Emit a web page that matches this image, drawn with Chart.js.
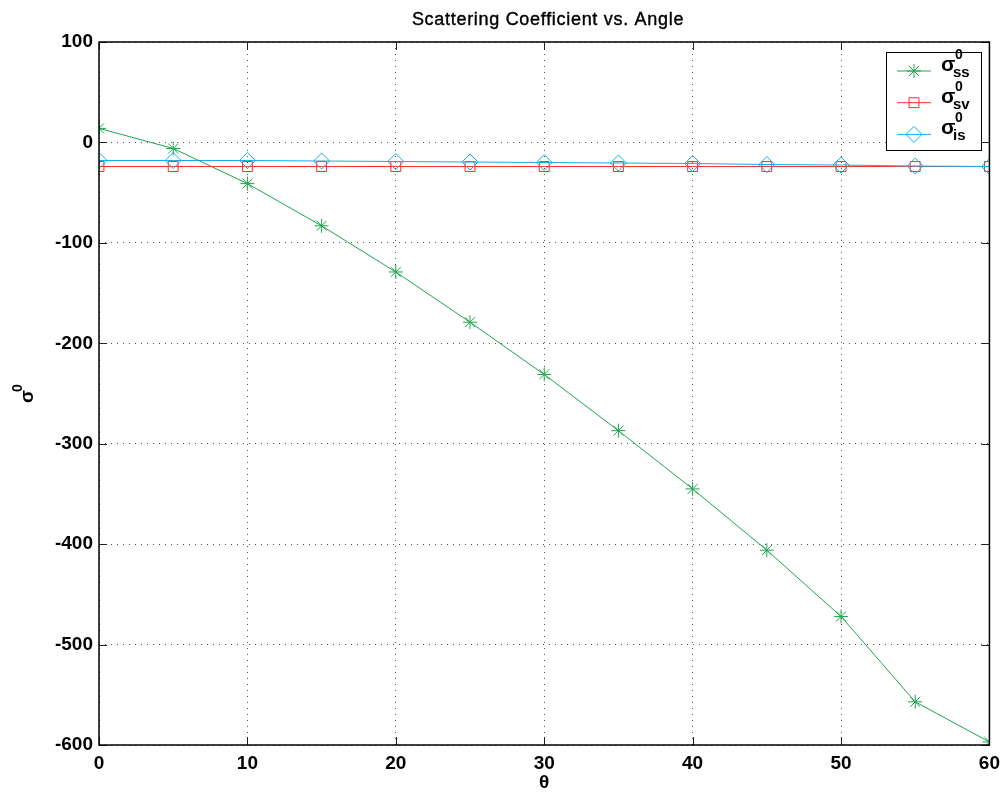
<!DOCTYPE html>
<html>
<head>
<meta charset="utf-8">
<script src="https://cdn.jsdelivr.net/npm/chart.js@4/dist/chart.umd.min.js"></script>
<style>
  html, body { margin: 0; padding: 0; background: #fff; }
  #wrap { width: 1007px; height: 796px; }
</style>
</head>
<body>
<div id="wrap"><canvas id="chart" width="1007" height="796"></canvas></div>
<script>
// data
const angles = [0, 5, 10, 15, 20, 25, 30, 35, 40, 45, 50, 55, 60];
const sigmaSS = [14, -6, -41, -83, -129, -179, -231, -287, -345, -406, -472, -557, -597];
const sigmaSV = [-24, -24, -24, -24, -24, -24, -24, -24, -24, -24, -24, -24, -24];
const sigmaIS = [-18, -18, -18, -18.5, -19, -19.5, -20, -20.5, -21, -22, -22.5, -23.5, -24];
const xTicks = [0, 10, 20, 30, 40, 50, 60];
const yTicks = [-600, -500, -400, -300, -200, -100, 0, 100];

const GREEN = "#1ea64f";
const RED = "#ff2b2b";
const BLUE = "#14aee8";
const FONT = "'Liberation Sans', Arial, sans-serif";

const toPoints = (ys) => ys.map((y, i) => ({ x: angles[i], y }));

const legendRows = [
  { sub: "ss", color: GREEN, style: "star", radius: 7 },
  { sub: "sv", color: RED, style: "rect", radius: 7 },
  { sub: "is", color: BLUE, style: "rectRot", radius: 8 },
];

// title, axis labels, frame, inward ticks and the legend box
const decorations = {
  id: "decorations",
  afterDraw(chart) {
    const { ctx, chartArea: a, scales } = chart;
    ctx.save();

    // inward ticks
    ctx.strokeStyle = "#222";
    ctx.lineWidth = 1;
    ctx.beginPath();
    xTicks.forEach((v) => {
      const px = Math.round(scales.x.getPixelForValue(v)) + 0.5;
      ctx.moveTo(px, a.bottom); ctx.lineTo(px, a.bottom - 8);
      ctx.moveTo(px, a.top); ctx.lineTo(px, a.top + 8);
    });
    yTicks.forEach((v) => {
      const py = Math.round(scales.y.getPixelForValue(v)) + 0.5;
      ctx.moveTo(a.left, py); ctx.lineTo(a.left + 8, py);
      ctx.moveTo(a.right, py); ctx.lineTo(a.right - 8, py);
    });
    ctx.stroke();

    // frame
    ctx.strokeStyle = "#000";
    ctx.lineWidth = 1.5;
    ctx.strokeRect(a.left, a.top, a.right - a.left, a.bottom - a.top);

    // title, slightly heavier than regular
    ctx.fillStyle = "#000";
    ctx.strokeStyle = "#000";
    ctx.lineWidth = 0.4;
    ctx.font = "18px " + FONT;
    ctx.letterSpacing = "0.7px";
    ctx.textAlign = "center";
    ctx.textBaseline = "alphabetic";
    ctx.fillText("Scattering Coefficient vs. Angle", 548, 25);
    ctx.strokeText("Scattering Coefficient vs. Angle", 548, 25);
    ctx.letterSpacing = "0px";

    // x title
    ctx.font = "bold 19px " + FONT;
    ctx.textBaseline = "middle";
    ctx.fillText("θ", (a.left + a.right) / 2, 783);

    // y title, rotated
    ctx.save();
    ctx.translate(33, 403);
    ctx.rotate(-Math.PI / 2);
    ctx.textAlign = "left";
    ctx.textBaseline = "alphabetic";
    ctx.font = "bold 19px " + FONT;
    ctx.fillText("σ", 0, 0);
    ctx.font = "bold 14px " + FONT;
    ctx.fillText("0", 11, -11);
    ctx.restore();

    // legend
    const box = { x: 886, y: 52, w: 95, h: 98 };
    ctx.fillStyle = "#fff";
    ctx.fillRect(box.x, box.y, box.w, box.h);
    ctx.strokeStyle = "#000";
    ctx.lineWidth = 1;
    ctx.strokeRect(box.x + 0.5, box.y + 0.5, box.w, box.h);
    legendRows.forEach((row, i) => {
      const y = 71 + i * 31.7;
      ctx.strokeStyle = row.color;
      ctx.lineWidth = 1;
      ctx.beginPath();
      ctx.moveTo(897, y); ctx.lineTo(931, y);
      ctx.stroke();
      ctx.fillStyle = "rgba(0,0,0,0)";
      Chart.helpers.drawPoint(ctx, { pointStyle: row.style, rotation: 0, radius: row.radius, borderWidth: 1 }, 914, y);
      ctx.fillStyle = "#000";
      ctx.textAlign = "left";
      ctx.textBaseline = "alphabetic";
      ctx.font = "bold 21px " + FONT;
      ctx.fillText("σ", 941, y);
      ctx.font = "bold 14px " + FONT;
      ctx.fillText("0", 955, y - 12);
      ctx.font = "bold 15px " + FONT;
      ctx.fillText(row.sub, 953, y + 6);
    });

    ctx.restore();
  },
};

const dataset = (label, ys, color, style, radius, order) => ({
  label,
  data: toPoints(ys),
  borderColor: color,
  borderWidth: 1,
  pointStyle: style,
  pointRadius: radius,
  pointHoverRadius: radius,
  pointBorderColor: color,
  pointBackgroundColor: "rgba(0,0,0,0)",
  pointBorderWidth: 1,
  showLine: true,
  tension: 0,
  order,
});

new Chart(document.getElementById("chart"), {
  type: "scatter",
  data: {
    datasets: [
      dataset("σ0ss", sigmaSS, GREEN, "star", 7, 0),
      dataset("σ0sv", sigmaSV, RED, "rect", 7, 2),
      dataset("σ0is", sigmaIS, BLUE, "rectRot", 8, 1),
    ],
  },
  options: {
    responsive: false,
    devicePixelRatio: 1,
    animation: false,
    layout: { padding: { top: 42, right: 16, left: 0, bottom: 0 } },
    plugins: { legend: { display: false }, title: { display: false }, tooltip: { enabled: false } },
    scales: {
      x: {
        type: "linear",
        min: 0,
        max: 60,
        afterBuildTicks: (s) => { s.ticks = xTicks.map((v) => ({ value: v })); },
        afterFit: (s) => { s.height = 51; },
        ticks: { color: "#000", padding: 7, font: { family: FONT, size: 19, weight: "bold" }, maxRotation: 0 },
        grid: { color: "#555", drawTicks: false, tickLength: 0 },
        border: { display: false, dash: [1, 5] },
      },
      y: {
        type: "linear",
        min: -600,
        max: 100,
        afterBuildTicks: (s) => { s.ticks = yTicks.map((v) => ({ value: v })); },
        afterFit: (s) => { s.width = 99; },
        ticks: { color: "#000", padding: 6, font: { family: FONT, size: 19, weight: "bold" } },
        grid: { color: "#555", drawTicks: false, tickLength: 0 },
        border: { display: false, dash: [1, 5] },
      },
    },
  },
  plugins: [decorations],
});
</script>
</body>
</html>
